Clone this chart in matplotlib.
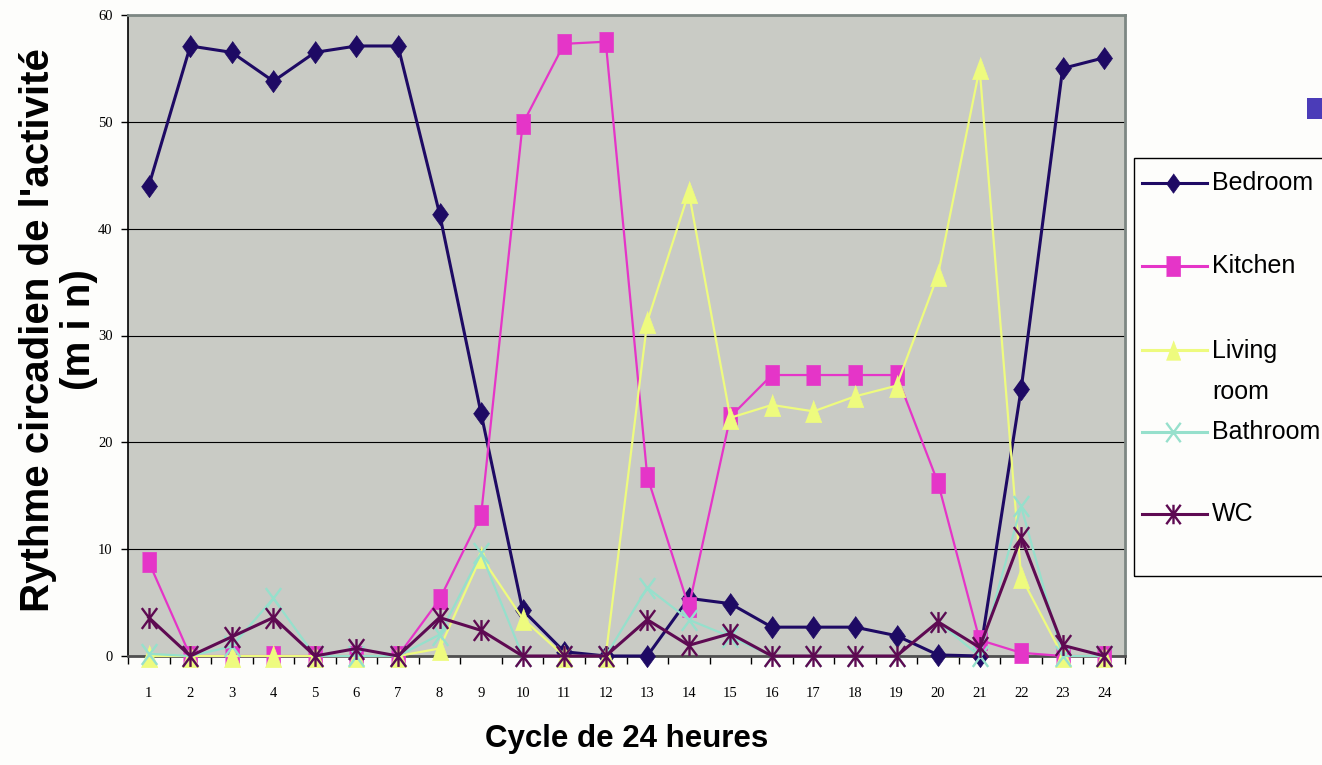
import numpy as np
import matplotlib.pyplot as plt
from matplotlib.path import Path
from matplotlib.lines import Line2D
from matplotlib.patches import Rectangle

hours = list(range(1, 25))
bedroom = [44.0, 57.1, 56.5, 53.8, 56.5, 57.1, 57.1, 41.4, 22.7, 4.3, 0.4, 0.0,
           0.0, 5.4, 4.9, 2.7, 2.7, 2.7, 1.9, 0.1, 0.0, 25.0, 55.0, 56.0]
kitchen = [8.8, 0.0, 0.0, 0.0, 0.0, 0.0, 0.0, 5.3, 13.2, 49.8, 57.3, 57.5,
           16.8, 4.6, 22.4, 26.3, 26.3, 26.3, 26.3, 16.2, 1.5, 0.3, 0.0, 0.0]
living = [0.0, 0.0, 0.0, 0.0, 0.0, 0.0, 0.0, 0.7, 9.3, 3.5, 0.0, 0.0,
          31.3, 43.4, 22.3, 23.5, 22.9, 24.3, 25.3, 35.7, 55.0, 7.4, 0.0, 0.0]
bathroom = [0.2, 0.0, 0.9, 5.4, 0.0, 0.0, 0.0, 2.0, 9.6, 0.0, 0.0, 0.0,
            6.4, 3.4, 1.8, 0.0, 0.0, 0.0, 0.0, 3.2, 0.0, 14.0, 0.0, 0.0]
wc = [3.6, 0.0, 1.8, 3.6, 0.0, 0.7, 0.0, 3.6, 2.4, 0.0, 0.0, 0.0,
      3.4, 1.0, 2.1, 0.0, 0.0, 0.0, 0.0, 3.2, 0.8, 11.1, 1.0, 0.0]
labels = ["Bedroom", "Kitchen", "Living\nroom", "Bathroom", "WC"]

sans = ["Liberation Sans", "DejaVu Sans"]
serif = ["Liberation Serif", "DejaVu Serif"]

# markers are a bit taller than wide, like in the picture
diamond = [(0, 0.5), (0.36, 0), (0, -0.5), (-0.36, 0)]
square = [(-0.34, -0.5), (0.34, -0.5), (0.34, 0.5), (-0.34, 0.5)]
triangle = [(0, 0.5), (0.37, -0.5), (-0.37, -0.5)]
xmark = Path([(-0.37, -0.5), (0.37, 0.5), (-0.37, 0.5), (0.37, -0.5)],
             [Path.MOVETO, Path.LINETO, Path.MOVETO, Path.LINETO])
star = Path([(-0.37, -0.5), (0.37, 0.5), (-0.37, 0.5), (0.37, -0.5), (0, 0.5), (0, -0.5)],
            [Path.MOVETO, Path.LINETO, Path.MOVETO, Path.LINETO, Path.MOVETO, Path.LINETO])

colors = ["#1e0a64", "#e535c8", "#eefb7e", "#96e0cc", "#5e0a52"]
markers = [diamond, square, triangle, xmark, star]
line_w = [2.2, 1.6, 1.6, 1.6, 2.2]
marker_s = [16, 14, 16, 15, 15]
filled = [True, True, True, False, False]

fig = plt.figure(figsize=(13.22, 7.65), dpi=100, facecolor="#fdfdfb")
ax = fig.add_axes([128 / 1322, 1 - 656 / 765, 997 / 1322, 641 / 765])
ax.set_facecolor("#c9cbc5")

def mstyle(i, ms):
    c = colors[i]
    return dict(marker=markers[i], ms=ms, mfc=c if filled[i] else "none", mec=c,
                mew=0.5 if filled[i] else 1.7)

series = [bedroom, kitchen, living, bathroom, wc]
for i, vals in enumerate(series):
    ax.plot(hours, vals, color=colors[i], lw=line_w[i], zorder=3 + i, clip_on=False,
            **mstyle(i, marker_s[i]))

ax.set_xlim(0.5, 24.5)
ax.set_ylim(0, 60)
ax.set_yticks(range(0, 61, 10))
ax.set_xticks(hours)
ax.set_xticks(np.arange(0.5, 25, 1), minor=True)
ax.yaxis.grid(True, color="black", lw=0.8)
ax.set_axisbelow(True)

ax.tick_params(axis="x", which="major", length=0, pad=22)
ax.tick_params(axis="x", which="minor", length=6, width=1, color="black", direction="out")
ax.tick_params(axis="y", length=5, width=1, color="black", pad=6)
for t in ax.get_xticklabels() + ax.get_yticklabels():
    t.set_family(serif)
    t.set_fontsize(10.5)

ax.spines["left"].set_color("black")
ax.spines["left"].set_linewidth(1.2)
ax.spines["bottom"].set_color("#505050")
ax.spines["bottom"].set_linewidth(2)
for s in ["top", "right"]:
    ax.spines[s].set_color("#7d8783")
    ax.spines[s].set_linewidth(2)

ax.set_xlabel("Cycle de 24 heures", family=sans, fontsize=22.5, fontweight="bold")
ax.xaxis.set_label_coords(0.5005, -0.106)
fig.text(59 / 1322, 1 - 330 / 765, "Rythme circadien de l'activité\n(m i n)",
         rotation=90, ha="center", va="center", multialignment="center",
         family=sans, fontsize=29, fontweight="bold", linespacing=1.1)

# legend box, drawn by hand so that entries stay evenly spaced
fig.add_artist(Rectangle((1134 / 1322, 1 - 576 / 765), 0.2, 418 / 765,
                         transform=fig.transFigure, fill=False, ec="black", lw=1))
entry_y = [183, 266, 350, 432, 514]
for i, (lab, yp) in enumerate(zip(labels, entry_y)):
    y = 1 - yp / 765
    fig.add_artist(Line2D([1142 / 1322, 1207 / 1322], [y, y], transform=fig.transFigure,
                          color=colors[i], lw=2.2))
    fig.add_artist(Line2D([1173 / 1322], [y], transform=fig.transFigure, ls="none",
                          **mstyle(i, 14)))
    nlines = lab.count("\n") + 1
    fig.text(1212 / 1322, y - (nlines - 1) * 21.5 / 765, lab, ha="left", va="center",
             family=sans, fontsize=18, linespacing=1.85)

# small coloured square at the top right
fig.add_artist(Rectangle((1307 / 1322, 1 - 119 / 765), 15 / 1322, 21 / 765,
                         transform=fig.transFigure, color="#4b3cb8", lw=0))

fig.savefig("out.png", dpi=100, facecolor=fig.get_facecolor())
